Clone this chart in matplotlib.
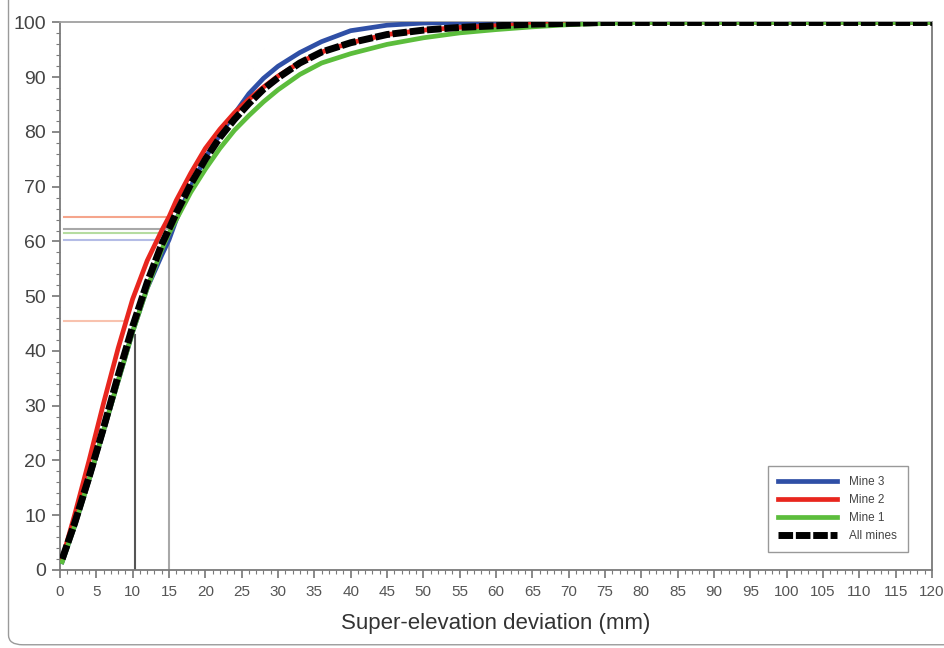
import matplotlib.pyplot as plt
from matplotlib.patches import FancyBboxPatch
from matplotlib.ticker import MultipleLocator

plt.rcParams['font.family'] = ['Liberation Sans', 'DejaVu Sans']

# cumulative distribution (%) of super-elevation deviation
x_all = [0.3, 2, 4, 6, 8, 10, 12, 14, 15, 16, 18, 20, 22, 24, 26, 28, 30,
         33, 36, 40, 45, 50, 55, 60, 65, 70, 75, 80, 120]
y_all = [2, 8.5, 17, 26, 35.5, 44.5, 52.5, 59.5, 62.3, 65.2, 70.5, 75, 79,
         82.3, 85.2, 87.8, 89.9, 92.6, 94.6, 96.3, 97.8, 98.6, 99.1, 99.4,
         99.7, 99.85, 100, 100, 100]

x_m2 = [0.3, 2, 4, 6, 8, 10, 12, 14, 15, 16, 18, 20, 22, 24, 26, 28, 30,
        33, 36, 40, 45, 50, 55, 60, 65, 70, 75, 80, 120]
y_m2 = [2, 10, 20, 30.5, 40.5, 49.5, 56.5, 62, 64.5, 67.5, 72.5, 77, 80.5,
        83.5, 86, 88.2, 90.2, 92.7, 94.6, 96.3, 97.8, 98.6, 99.1, 99.4,
        99.7, 99.85, 100, 100, 100]

x_m1 = [0.3, 2, 4, 6, 8, 10, 12, 14, 15, 16, 18, 20, 22, 24, 26, 28, 30,
        33, 36, 40, 45, 50, 55, 60, 65, 70, 75, 80, 120]
y_m1 = [1.5, 8, 16.5, 25.5, 34.5, 43.5, 51.5, 58.5, 61.5, 64, 69, 73.2, 77,
        80.3, 83, 85.5, 87.7, 90.5, 92.6, 94.3, 96, 97.2, 98.1, 98.7, 99.2,
        99.6, 99.85, 100, 100]

x_m3 = [0.3, 2, 4, 6, 8, 10, 12, 14, 15, 16, 18, 20, 22, 24, 26, 28, 30,
        33, 36, 40, 45, 50, 55, 120]
y_m3 = [1.5, 8, 16.5, 25.5, 34.5, 43.5, 51.5, 57.5, 60.3, 64, 70, 75.3,
        79.5, 83.3, 87, 89.8, 92, 94.5, 96.5, 98.5, 99.5, 99.9, 100, 100]

# percentile read-off guides
guide_y = [64.5, 62.3, 61.5, 60.3]
guide_c = ['#f5a58c', '#a8a8a8', '#b5dca0', '#b4bce6']

fig = plt.figure(figsize=(9.45, 6.48), dpi=100)
ax = fig.add_axes([0.0635, 0.1204, 0.9227, 0.8449])

# outer rounded frame
frame = FancyBboxPatch((0.009, 0.005), 1.2, 1.2,
                       boxstyle='round,pad=0,rounding_size=0.015',
                       transform=fig.transFigure, fill=False,
                       edgecolor='#9a9a9a', linewidth=1.0)
fig.patches.append(frame)

for yv, c in zip(guide_y, guide_c):
    ax.plot([0.5, 15], [yv, yv], color=c, lw=1.5, zorder=1)
ax.plot([0.5, 8.9], [45.5, 45.5], color='#f8c2ae', lw=1.5, zorder=1)
ax.plot([10.3, 10.3], [0, 43], color='#555555', lw=1.5, zorder=1)
ax.plot([15, 15], [0, 62], color='#a8a8a8', lw=1.5, zorder=1)

ax.plot(x_m3, y_m3, color='#2f4fa6', lw=3.4, label='Mine 3', zorder=3)
ax.plot(x_m2, y_m2, color='#e8261e', lw=3.4, label='Mine 2', zorder=3)
ax.plot(x_m1, y_m1, color='#5cbd3c', lw=3.4, label='Mine 1', zorder=3)
ax.plot(x_all, y_all, color='black', lw=5, dashes=(2.1, 0.4),
        label='All mines', zorder=4)

ax.set_xlim(0, 120)
ax.set_ylim(0, 100)
ax.xaxis.set_major_locator(MultipleLocator(5))
ax.xaxis.set_minor_locator(MultipleLocator(1))
ax.yaxis.set_major_locator(MultipleLocator(10))
ax.yaxis.set_minor_locator(MultipleLocator(2))

for s in ax.spines.values():
    s.set_color('#7a7a7a')
    s.set_linewidth(1.3)
ax.spines['top'].set_color('#a0a0a0')

ax.tick_params(which='major', length=6, width=1.1, color='#6a6a6a',
               labelcolor='#444444')
ax.tick_params(which='minor', length=3, width=0.8, color='#7a7a7a')
ax.tick_params(axis='y', labelsize=14, pad=4)
ax.tick_params(axis='x', labelsize=9.5, pad=5)
for lab in ax.get_xticklabels():
    lab.set_family(['Liberation Sans Narrow', 'Liberation Sans'])
    lab.set_fontsize(11)
    lab.set_color('#555555')

ax.set_xlabel('Super-elevation deviation (mm)', fontsize=16,
              color='#333333', labelpad=10)

leg = ax.legend(loc='lower right', bbox_to_anchor=(0.972, 0.032),
                fontsize=8.5, frameon=True, fancybox=False,
                handlelength=5.0, handletextpad=1.0, borderpad=0.9,
                labelspacing=0.5, borderaxespad=0)
leg.get_frame().set_edgecolor('#808080')
leg.get_frame().set_linewidth(1.0)
for t in leg.get_texts():
    t.set_color('#444444')

fig.savefig('out.png', dpi=100)
